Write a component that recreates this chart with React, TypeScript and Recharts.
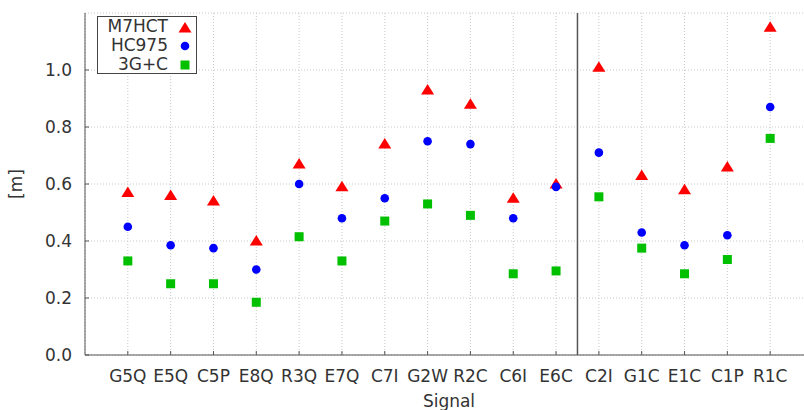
import { CartesianGrid, ReferenceLine, Scatter, ScatterChart, XAxis, YAxis } from "recharts"

const signals = ["G5Q", "E5Q", "C5P", "E8Q", "R3Q", "E7Q", "C7I", "G2W", "R2C", "C6I", "E6C", "C2I", "G1C", "E1C", "C1P", "R1C"]
const m7hct = [0.57, 0.56, 0.54, 0.4, 0.67, 0.59, 0.74, 0.93, 0.88, 0.55, 0.6, 1.01, 0.63, 0.58, 0.66, 1.15]
const hc975 = [0.45, 0.385, 0.375, 0.3, 0.6, 0.48, 0.55, 0.75, 0.74, 0.48, 0.59, 0.71, 0.43, 0.385, 0.42, 0.87]
const g3c = [0.33, 0.25, 0.25, 0.185, 0.415, 0.33, 0.47, 0.53, 0.49, 0.285, 0.295, 0.555, 0.375, 0.285, 0.335, 0.76]
const yTicks = [0, 0.2, 0.4, 0.6, 0.8, 1.0]
const splitAfter = 11 // E6C | C2I

const xTicks = signals.map((_, i) => i + 1)
const toPoints = (vals: number[]) => vals.map((y, i) => ({ x: i + 1, y }))

const RED = "#ff0000"
const BLUE = "#0000ff"
const GREEN = "#00c000"
const AXIS = "#555555"
const FONT = "'DejaVu Sans', Verdana, sans-serif"

const Triangle = (p: any) => (
  <polygon
    points={`${p.cx},${p.cy - 6} ${p.cx - 6.5},${p.cy + 4.5} ${p.cx + 6.5},${p.cy + 4.5}`}
    fill={RED}
  />
)
const Dot = (p: any) => <circle cx={p.cx} cy={p.cy} r={4.3} fill={BLUE} />
const Square = (p: any) => <rect x={p.cx - 4.5} y={p.cy - 4.5} width={9} height={9} fill={GREEN} />

function LegendBox() {
  const row = { display: "flex", alignItems: "center", height: 19, justifyContent: "flex-end" } as const
  const txt = { marginRight: 10 }
  const mark = { width: 14, display: "flex", justifyContent: "center", marginRight: 4 } as const
  return (
    <div
      style={{
        position: "absolute",
        left: 97,
        top: 16,
        width: 98,
        height: 56,
        border: "1px solid #444",
        background: "#fff",
        fontFamily: FONT,
        fontSize: 17,
        color: "#333",
        lineHeight: "19px",
        paddingTop: 0,
      }}
    >
      <div style={row}>
        <span style={txt}>M7HCT</span>
        <span style={mark}>
          <svg width={14} height={12}>
            <polygon points="7,1 0.5,11.5 13.5,11.5" fill={RED} />
          </svg>
        </span>
      </div>
      <div style={row}>
        <span style={txt}>HC975</span>
        <span style={mark}>
          <svg width={10} height={10}>
            <circle cx={5} cy={5} r={4.3} fill={BLUE} />
          </svg>
        </span>
      </div>
      <div style={row}>
        <span style={txt}>3G+C</span>
        <span style={mark}>
          <svg width={10} height={10}>
            <rect x={0.5} y={0.5} width={9} height={9} fill={GREEN} />
          </svg>
        </span>
      </div>
    </div>
  )
}

export default function App() {
  const tickStyle = { fontFamily: FONT, fontSize: 17, fill: "#333" }
  return (
    <div style={{ position: "absolute", left: 0, top: 0, width: 804, height: 410, overflow: "hidden", background: "#fff" }}>
      <ScatterChart width={830} height={410} margin={{ top: 13, right: 17, bottom: 25, left: 0 }}>
        <CartesianGrid stroke="#c8c8c8" strokeDasharray="1 2" />
        <XAxis
          type="number"
          dataKey="x"
          domain={[0, 17]}
          ticks={xTicks}
          interval={0}
          tickFormatter={(v) => signals[v - 1] ?? ""}
          height={30}
          stroke={AXIS}
          tickSize={-4}
          tickMargin={19}
          tick={tickStyle}
          label={{ value: "Signal", position: "bottom", offset: 10, style: { fontFamily: FONT, fontSize: 17, fill: "#333" } }}
        />
        <XAxis
          xAxisId="top"
          orientation="top"
          type="number"
          dataKey="x"
          domain={[0, 17]}
          ticks={xTicks}
          interval={0}
          height={0}
          stroke={AXIS}
          tickSize={-4}
          tick={false}
        />
        <YAxis
          type="number"
          dataKey="y"
          domain={[0, 1.2]}
          ticks={yTicks}
          interval={0}
          width={85}
          stroke={AXIS}
          tickSize={-4}
          tickMargin={17}
          tick={tickStyle}
          tickFormatter={(v) => v.toFixed(1)}
          label={{
            value: "[m]",
            angle: -90,
            position: "insideLeft",
            offset: 16,
            style: { fontFamily: FONT, fontSize: 17, fill: "#333", textAnchor: "middle" },
          }}
        />
        <ReferenceLine x={splitAfter + 0.5} stroke={AXIS} strokeWidth={1.5} />
        <Scatter name="M7HCT" data={toPoints(m7hct)} shape={Triangle} isAnimationActive={false} />
        <Scatter name="HC975" data={toPoints(hc975)} shape={Dot} isAnimationActive={false} />
        <Scatter name="3G+C" data={toPoints(g3c)} shape={Square} isAnimationActive={false} />
      </ScatterChart>
      <LegendBox />
    </div>
  )
}
